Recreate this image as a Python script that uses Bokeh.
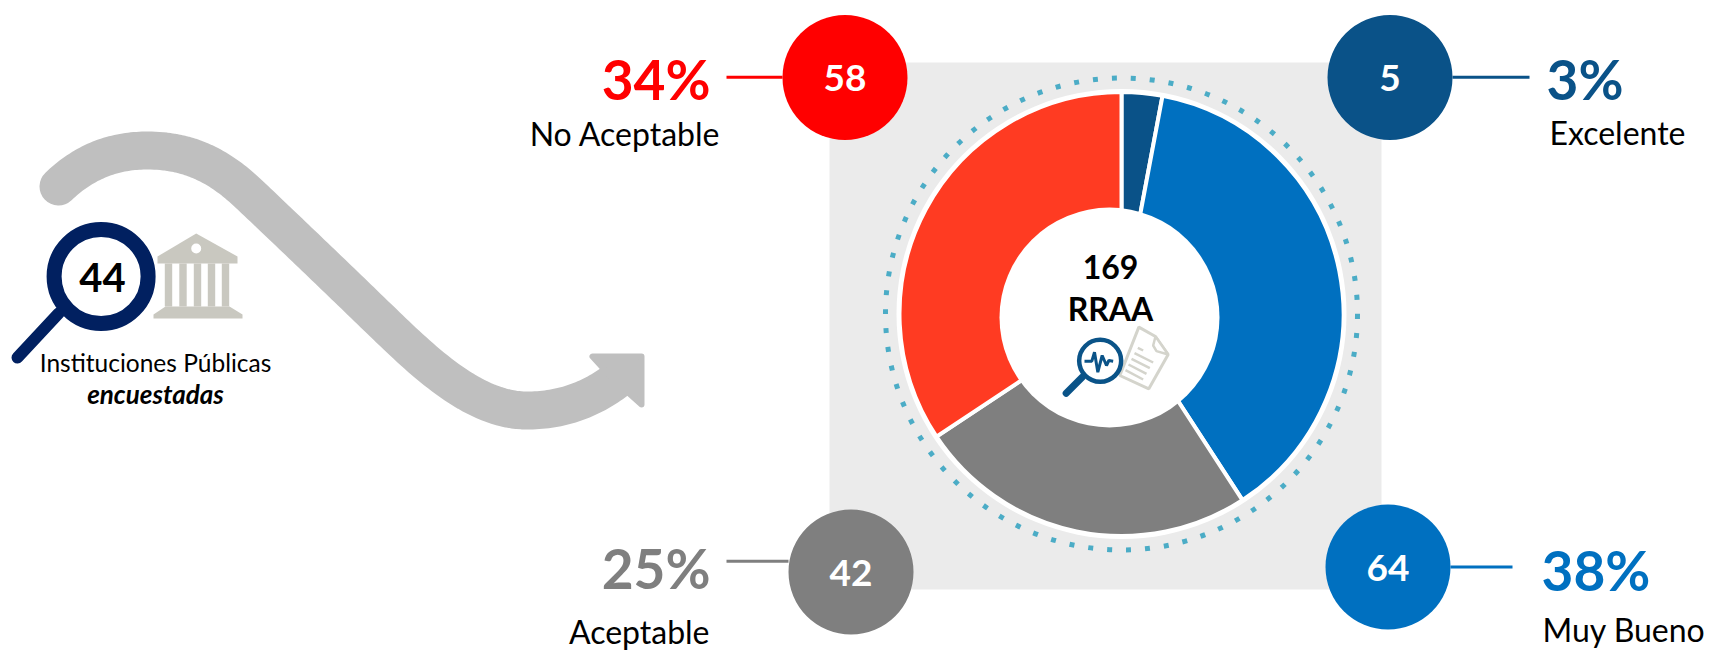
import numpy as np
from bokeh.plotting import figure
from bokeh.embed import file_html
from bokeh.resources import INLINE
from bokeh.core.properties import value

categories = ["Excelente", "Muy Bueno", "Aceptable", "No Aceptable"]
counts = [5, 64, 42, 58]
percents = ["3%", "38%", "25%", "34%"]
total_label = ["169", "RRAA"]
institutions = "44"
inst_lines = ["Instituciones Públicas", "encuestadas"]
slice_colors = ["#0a5288", "#0070c0", "#7f7f7f", "#ff3b22"]
bubble_colors = ["#0a5288", "#0070c0", "#7f7f7f", "#ff0000"]
pct_colors = ["#0a5288", "#0070c0", "#7f7f7f", "#ff0000"]

W, H = 1710, 650
def X(v): return np.asarray(v, dtype=float)
def Y(v): return H - np.asarray(v, dtype=float)
F = value("Lato")

p = figure(width=W, height=H, x_range=(0, W), y_range=(0, H), toolbar_location=None,
           output_backend="svg", min_border=0, outline_line_color=None)
p.axis.visible = False
p.grid.visible = False

def cubic(p0, c0, c1, p1, n=40):
    t = np.linspace(0, 1, n)[:, None]
    a, b, c, d = map(np.asarray, (p0, c0, c1, p1))
    return (1-t)**3*a + 3*(1-t)**2*t*b + 3*(1-t)*t**2*c + t**3*d

# curved arrow
segs = [((58,186),(85,160),(115,150),(147,150)),
        ((147,150),(195,150),(225,171),(251,196)),
        ((251,196),(290,233),(335,276),(376.6,316.4)),
        ((376.6,316.4),(416,354),(470,410),(526,410)),
        ((526,410),(565,410),(595,397),(622,375))]
path = np.vstack([cubic(*s) for s in segs])
p.line(X(path[:,0]), Y(path[:,1]), line_color="#bfbfbf", line_width=38, line_cap="round", line_join="round")
p.patch(X([592,641,641,612]), Y([356,356,404,378]), fill_color="#bfbfbf", line_color="#bfbfbf",
        line_width=6, line_join="round")

# big magnifier
navy = "#012060"
p.line(X([58,17]), Y([313,357]), line_color=navy, line_width=12, line_cap="round")
p.circle(X([100.6]), Y([276]), radius=47, fill_color="white", line_color=navy, line_width=15)

# bank icon
bank = "#c9c8c0"
p.patch(X([157,195.7,237,237,157]), Y([256,233,256,263,263]), fill_color=bank, line_color=None)
p.circle(X([195.7]), Y([248]), radius=5, fill_color="white", line_color=None)
for c in [168, 182.5, 197, 211, 225]:
    p.quad(left=X([c-3.7]), right=X([c+3.7]), top=Y([263]), bottom=Y([306]), fill_color=bank, line_color=None)
p.patch(X([165,229,242,242,153,153]), Y([306,306,314,318,318,314]), fill_color=bank, line_color=None)

p.text(X([102]), Y([277]), text=[institutions], text_font=F, text_font_style="bold", text_font_size="40px",
       text_align="center", text_baseline="middle", text_color="black")
p.text(X([155]), Y([362]), text=[inst_lines[0]], text_font=F, text_font_size="24.5px",
       text_align="center", text_baseline="middle", text_color="black")
p.text(X([155]), Y([393]), text=[inst_lines[1]], text_font=F, text_font_style="bold italic", text_font_size="26px",
       text_align="center", text_baseline="middle", text_color="black")

# panel
p.quad(left=X([829]), right=X([1381]), top=Y([62]), bottom=Y([589]), fill_color="#ebebeb", line_color=None)

# dotted ring and donut
cx, cy = 1121, 313.5
p.circle(X([cx]), Y([cy]), radius=236, fill_color=None, line_color="#4bacc6", line_width=5, line_dash="5 14")
vals = np.array(counts, dtype=float)
cum = np.concatenate([[0], np.cumsum(vals)]) / vals.sum() * 2*np.pi
p.circle(X([cx]), Y([cy]), radius=225, fill_color="white", line_color=None)
p.annular_wedge(x=[float(X(cx))]*4, y=[float(Y(cy))]*4, inner_radius=85, outer_radius=222,
                start_angle=list(np.pi/2-cum[:-1]), end_angle=list(np.pi/2-cum[1:]), direction="clock",
                fill_color=slice_colors, line_color="white", line_width=4)
# the white hole sits off-centre in the reference
p.circle(X([1109]), Y([317]), radius=110, fill_color="white", line_color=None)

p.text(X([1110,1110]), Y([266,308]), text=total_label, text_font=F, text_font_style="bold", text_font_size="32px",
       text_align="center", text_baseline="middle", text_color="black")

# document icon
dg = "#d4d4cc"
def dx(v): return X(1000+np.asarray(v)/3)
def dy(v): return Y(220+np.asarray(v)/3)
p.patch(dx([415,465,503,445,358]), dy([320,348,402,505,465]), fill_color="white", line_color=dg, line_width=3)
p.patch(dx([465,503,468,458]), dy([348,402,392,375]), fill_color="white", line_color=dg, line_width=2.5)
for a0, b0, a1, b1 in [(412,382,428,390),(402,398,458,426),(393,415,448,443),(384,432,438,460),(375,449,428,477)]:
    p.line(dx([a0,a1]), dy([b0,b1]), line_color=dg, line_width=2.5)

# small magnifier
blue = "#0a5388"
p.line(dx([245,197]), dy([470,518]), line_color=blue, line_width=7, line_cap="round")
p.circle(dx([299]), dy([421]), radius=21, fill_color="white", line_color=blue, line_width=4.5)
p.line(dx([252,274,282,292,305,318,325,338]), dy([422,422,395,455,405,435,420,422]), line_color=blue, line_width=3)

# bubbles, leaders and labels
bubble_x = [1389.5, 1387.5, 850.5, 844.5]
bubble_y = [77, 566.5, 571.5, 77]
lead_x0 = [1452, 1450, 726, 726]
lead_x1 = [1529, 1512, 788, 782]
lead_y = [76.7, 566.6, 560.7, 76.7]
pct_x = [1546, 1541, 710, 710]
pct_y = [78, 569, 567, 78]
lab_x = [1549, 1542, 709, 720]
lab_y = [132, 629, 631, 133]
aligns = ["left", "left", "right", "right"]
for i in range(4):
    p.line(X([lead_x0[i], lead_x1[i]]), Y([lead_y[i]]*2), line_color=bubble_colors[i], line_width=3)
    p.circle(X([bubble_x[i]]), Y([bubble_y[i]]), radius=62.5, fill_color=bubble_colors[i], line_color=None)
    p.text(X([bubble_x[i]]), Y([bubble_y[i]+0.5]), text=[str(counts[i])], text_font=F, text_font_style="bold",
           text_font_size="37px", text_align="center", text_baseline="middle", text_color="white")
    p.text(X([pct_x[i]]), Y([pct_y[i]]), text=[percents[i]], text_font=F, text_font_style="bold",
           text_font_size="55px", text_align=aligns[i], text_baseline="middle", text_color=pct_colors[i])
    p.text(X([lab_x[i]]), Y([lab_y[i]]), text=[categories[i]], text_font=F,
           text_font_size="32px", text_align=aligns[i], text_baseline="middle", text_color="black")

open("out.html", "w").write(file_html(p, INLINE))
